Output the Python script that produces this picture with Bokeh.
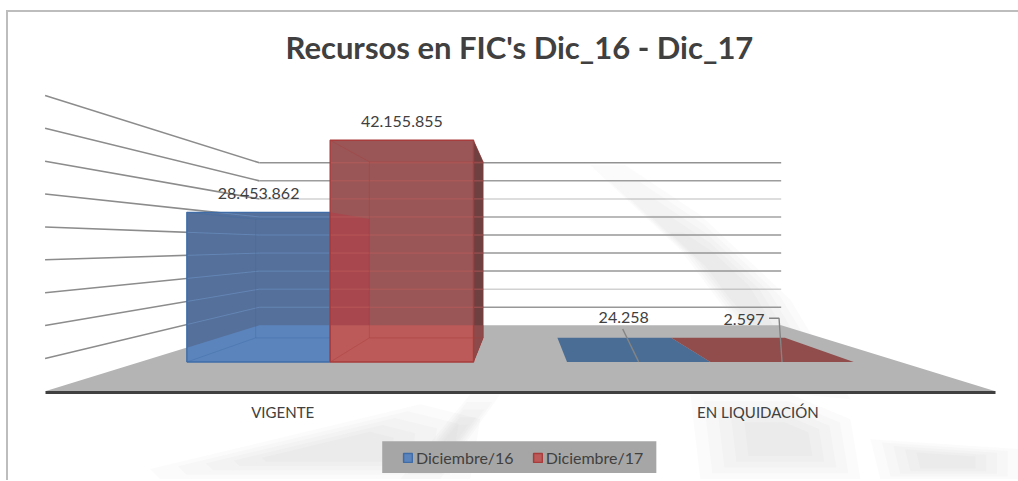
from bokeh.plotting import figure
from bokeh.embed import file_html
from bokeh.resources import INLINE
from bokeh.models import Range1d, FixedTicker, Legend, LegendItem
from bokeh.core.properties import value

# ---- data ----
categories = ["VIGENTE", "EN LIQUIDACIÓN"]
series_names = ["Diciembre/16", "Diciembre/17"]
dic_16 = [28453862, 24258]
dic_17 = [42155855, 2597]
labels_16 = ["28.453.862", "24.258"]
labels_17 = ["42.155.855", "2.597"]
title_text = "Recursos en FIC's Dic_16 - Dic_17"
grid_step = 5000000
grid_count = 9

# ---- 3D projection (perspective floor and walls, in page pixels) ----
CX, W_HALF = 520.0, 475.0          # centre of the chart, half width of the front
Y_FRONT, Y_BACK = 392.0, 325.7     # floor front and back
S_BACK = 0.549                     # perspective scale at the back wall
PX_PER_UNIT = 33.0 / grid_step     # value scale at the front
S_BAR_F, S_BAR_B = 0.80, 0.635     # front and back of the bars
GAP = 58.4                         # gap from category edge to bar


def proj(X, s, v=0.0):
    floor = Y_BACK + (Y_FRONT - Y_BACK) * (s - S_BACK) / (1 - S_BACK)
    return CX + X * s, floor - v * PX_PER_UNIT * s


def hull(pts):
    pts = sorted(set(pts))
    def half(ps):
        out = []
        for p in ps:
            while len(out) > 1 and (out[-1][0]-out[-2][0])*(p[1]-out[-2][1]) - (out[-1][1]-out[-2][1])*(p[0]-out[-2][0]) <= 0:
                out.pop()
            out.append(p)
        return out[:-1]
    return half(pts) + half(pts[::-1])


def clip(poly, a, b):
    """Keep the part of poly on the same side of a->b as the floor centre."""
    ref = (CX, Y_FRONT - 5)
    side = lambda p: (b[0]-a[0])*(p[1]-a[1]) - (b[1]-a[1])*(p[0]-a[0])
    sgn = 1 if side(ref) > 0 else -1
    out = []
    for i in range(len(poly)):
        p, q = poly[i], poly[(i+1) % len(poly)]
        sp, sq = side(p)*sgn, side(q)*sgn
        if sp >= 0:
            out.append(p)
        if sp * sq < 0:
            t = sp / (sp - sq)
            out.append((p[0]+(q[0]-p[0])*t, p[1]+(q[1]-p[1])*t))
    return out


def clip_floor(poly):
    fl, fr = proj(-W_HALF, 1), proj(W_HALF, 1)
    bl, br = proj(-W_HALF, S_BACK), proj(W_HALF, S_BACK)
    for a, b in [(fl, bl), (bl, br), (br, fr), (fr, fl)]:
        poly = clip(poly, a, b)
    return poly


def seg_in_hull(p0, p1, h):
    t0, t1 = 0.0, 1.0
    n = len(h)
    cx = sum(x for x, _ in h)/n
    cy = sum(y for _, y in h)/n
    for i in range(n):
        a, b = h[i], h[(i+1) % n]
        side = lambda p: (b[0]-a[0])*(p[1]-a[1]) - (b[1]-a[1])*(p[0]-a[0])
        sgn = 1 if side((cx, cy)) > 0 else -1
        d0, d1 = side(p0)*sgn, side(p1)*sgn
        if d0 < 0 and d1 < 0:
            return None
        if d0 < 0:
            t0 = max(t0, d0/(d0-d1))
        elif d1 < 0:
            t1 = min(t1, d0/(d0-d1))
    if t0 >= t1:
        return None
    return ((p0[0]+(p1[0]-p0[0])*t0, p0[1]+(p1[1]-p0[1])*t0),
            (p0[0]+(p1[0]-p0[0])*t1, p0[1]+(p1[1]-p0[1])*t1))


p = figure(width=1012, height=470, x_range=Range1d(8.44, 1020), y_range=Range1d(483.5, 70),
           output_backend="svg", toolbar_location=None, margin=(10, 0, 0, 6),
           min_border_left=0, min_border_right=0, min_border_bottom=0, min_border_top=58,
           title=title_text)
p.styles = {"border-top": "2px solid #bdbdbd", "border-left": "2px solid #bdbdbd", "box-sizing": "border-box"}
p.outline_line_color = None
p.grid.visible = False
p.yaxis.visible = False
p.title.align = "left"
p.title.offset = 277
p.title.text_font = "Lato"
p.title.text_font_style = "bold"
p.title.text_font_size = "31px"
p.title.text_color = "#404040"
p.title.standoff = 10

# faint photographic backdrop: each streak is built up in soft nested layers
streaks = [
    ([590, 625, 700, 790, 850, 800, 740, 680], [165, 165, 215, 300, 400, 395, 330, 250]),
    ([690, 790, 850, 860, 790, 700], [395, 395, 420, 480, 480, 480]),
    ([400, 470, 500, 440, 425], [480, 395, 395, 480, 480]),
    ([150, 420, 480, 470, 160], [470, 405, 420, 480, 480]),
    ([870, 1018, 1018, 880], [440, 450, 480, 480]),
]
bg_x, bg_y = [], []
for sx, sy in streaks:
    mx, my = sum(sx) / len(sx), sum(sy) / len(sy)
    for scale in (1.0, 0.85, 0.7, 0.55, 0.4):
        bg_x.append([mx + (q - mx) * scale for q in sx])
        bg_y.append([my + (q - my) * scale for q in sy])
p.patches(bg_x, bg_y, fill_color="#bdbdbd", fill_alpha=0.055, line_color=None)

# walls
grid_vals = [grid_step * i for i in range(1, grid_count + 1)]
back_alpha = [0.9, 0.4, 0.9, 0.9, 0.9, 0.8, 0.4, 0.85, 0.95]
grid_lines = []
for i, v in enumerate(grid_vals):
    a = proj(-W_HALF, 1, v)
    b = proj(-W_HALF, S_BACK, v)
    c = proj(W_HALF, S_BACK, v)
    grid_lines.append((a, b, c))
    p.line([a[0], b[0]], [a[1], b[1]], line_color="#8c8c8c", line_width=1.6)
    p.line([b[0], c[0]], [b[1], c[1]], line_color="#8c8c8c", line_width=1.5, line_alpha=back_alpha[i])

# floor
corners = [proj(-W_HALF, 1), proj(-W_HALF, S_BACK), proj(W_HALF, S_BACK), proj(W_HALF, 1)]
p.patch([q[0] for q in corners], [q[1] for q in corners], fill_color="#b4b4b4", line_color=None)

bar_styles = [
    dict(up="#55709a", low="#5b84bc", edge="#3f6ca6", grid="#6a8fc0", dark="#55709a", dark_low="#5b84bc", thin="#4a6d96"),
    dict(up="#9a5656", low="#bb5a58", edge="#a83c3c", grid="#bd5c5c", dark="#6e4040", dark_low="#8c4a4a", thin="#914c4c"),
]
bar_parts = {}
for ci, (name, vals) in enumerate(zip(series_names, [dic_16, dic_17])):
    st = bar_styles[ci]
    for k, v in enumerate(vals):
        base = -W_HALF + k * W_HALF
        x0 = base + GAP + ci * (W_HALF/2 - GAP)
        x1 = x0 + (W_HALF/2 - GAP)
        f = [proj(x0, S_BAR_F), proj(x1, S_BAR_F), proj(x1, S_BAR_F, v), proj(x0, S_BAR_F, v)]
        b = [proj(x0, S_BAR_B), proj(x1, S_BAR_B), proj(x1, S_BAR_B, v), proj(x0, S_BAR_B, v)]
        h = hull(f + b)
        bar_parts[(ci, k)] = (f, b)
        if v < 100000:
            p.patch([q[0] for q in h], [q[1] for q in h], fill_color=st["thin"], line_color=None)
            continue
        # whole bar body
        p.patch([q[0] for q in h], [q[1] for q in h], fill_color=st["up"], line_color=None)
        if ci == 1:
            # the blue bar's right face seen through the red bar
            bf, bb = bar_parts[(0, k)]
            lf = [bf[1], bb[1], bb[2], bf[2]]
            p.patch([q[0] for q in lf], [q[1] for q in lf], fill_color="#a8474e", line_color=None)
        # the part seen against the floor is brighter
        low = clip_floor(h)
        p.patch([q[0] for q in low], [q[1] for q in low], fill_color=st["low"], line_color=None)
        # right side face
        side = [f[1], b[1], b[2], f[2]]
        if ci == 1:
            p.patch([q[0] for q in side], [q[1] for q in side], fill_color=st["dark"], line_color=None)
            sl = clip_floor(side)
            p.patch([q[0] for q in sl], [q[1] for q in sl], fill_color=st["dark_low"], line_color=None)
        # walls seen through the bar
        for a_, b_, c_ in grid_lines:
            for s0, s1 in [(a_, b_), (b_, c_)]:
                seg = seg_in_hull(s0, s1, h)
                if seg:
                    p.line([seg[0][0], seg[1][0]], [seg[0][1], seg[1][1]], line_color=st["grid"], line_width=1, line_alpha=0.7)
        # back rectangle and the connecting edges (thin)
        p.line([b[0][0], b[1][0], b[2][0], b[3][0], b[0][0]], [b[0][1], b[1][1], b[2][1], b[3][1], b[0][1]],
               line_color=st["edge"], line_width=1, line_alpha=0.4)
        for i in range(4):
            p.line([f[i][0], b[i][0]], [f[i][1], b[i][1]], line_color=st["edge"], line_width=1, line_alpha=0.4)
        # front rectangle
        p.line([f[0][0], f[1][0], f[2][0], f[3][0], f[0][0]], [f[0][1], f[1][1], f[2][1], f[3][1], f[0][1]],
               line_color=st["edge"], line_width=1.4)

# data labels
lab_x = []
lab_y = []
lab_t = []
for ci, (vals, labs) in enumerate(zip([dic_16, dic_17], [labels_16, labels_17])):
    for k, (v, t) in enumerate(zip(vals, labs)):
        base = -W_HALF + k * W_HALF
        x_mid = base + GAP + (ci + 0.5) * (W_HALF/2 - GAP)
        tx, ty = proj(x_mid, S_BAR_F, v)
        lab_x.append(tx)
        lab_y.append(ty - 18.5 if k == 0 else ty)
        lab_t.append(t)
# small values: labels are moved off their bars and carry leader lines
tx, ty = lab_x[1], lab_y[1]
p.line([tx, tx - 16], [ty, ty - 33], line_color="#848484", line_width=1.4)
lab_x[1], lab_y[1] = tx - 15, ty - 44.5
tx, ty = lab_x[3], lab_y[3]
p.line([tx, tx - 3, tx - 13], [ty, ty - 44, ty - 44], line_color="#848484", line_width=1.4)
lab_x[3], lab_y[3] = tx - 38, ty - 42.5
p.text(lab_x, lab_y, text=lab_t, text_align="center", text_baseline="middle", text_color="#404040",
       text_font=value("Lato"), text_font_size="16px")

# category axis, fixed on the front of the floor
axis = p.xaxis[0]
axis.fixed_location = Y_FRONT + 1
axis.bounds = (CX - W_HALF, CX + W_HALF)
tick_pos = [proj(-W_HALF / 2, 1)[0], proj(W_HALF / 2, 1)[0]]
axis.ticker = FixedTicker(ticks=tick_pos)
axis.major_label_overrides = {tick_pos[i]: categories[i] for i in range(2)}
axis.major_tick_line_color = None
axis.minor_tick_line_color = None
axis.axis_line_color = "#404040"
axis.axis_line_width = 3
axis.major_label_text_font = "Lato"
axis.major_label_text_font_size = "15px"
axis.major_label_text_color = "#404040"
axis.major_label_standoff = 5

# legend: grey plate, with swatches taken from glyphs that lie outside the view
p.quad(left=[382], right=[656], top=[442], bottom=[474], fill_color="#a6a6a6", line_color=None)
sw = [p.patch([-90, -80, -80, -90], [10, 10, 20, 20], fill_color=c, line_color=e, line_width=1.5)
      for c, e in [("#5b84bc", "#3f6ca6"), ("#bb5a58", "#a83c3c")]]
legend = Legend(items=[LegendItem(label=series_names[i], renderers=[sw[i]]) for i in range(2)],
                orientation="horizontal", location=(394, 15), background_fill_alpha=0,
                border_line_color=None, label_text_font="Lato", label_text_font_size="16px",
                label_text_color="#404040", glyph_width=11, glyph_height=11, spacing=18,
                label_standoff=3, margin=0, padding=0)
p.add_layout(legend, "center")

open("out.html", "w").write(file_html(p, INLINE))
